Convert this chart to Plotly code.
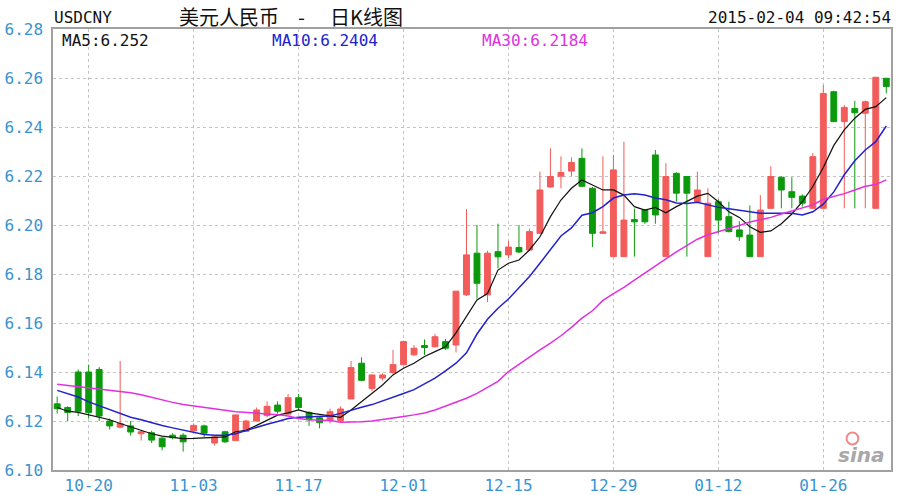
import plotly.graph_objects as go

dates = [
    "10-15", "10-16", "10-17", "10-20", "10-21", "10-22", "10-23", "10-24", "10-27", "10-28",
    "10-29", "10-30", "10-31", "11-03", "11-04", "11-05", "11-06", "11-07", "11-10", "11-11",
    "11-12", "11-13", "11-14", "11-17", "11-18", "11-19", "11-20", "11-21", "11-24", "11-25",
    "11-26", "11-27", "11-28", "12-01", "12-02", "12-03", "12-04", "12-05", "12-08", "12-09",
    "12-10", "12-11", "12-12", "12-15", "12-16", "12-17", "12-18", "12-19", "12-22", "12-23",
    "12-24", "12-25", "12-26", "12-29", "12-30", "12-31", "01-01", "01-02", "01-05", "01-06",
    "01-07", "01-08", "01-09", "01-12", "01-13", "01-14", "01-15", "01-16", "01-19", "01-20",
    "01-21", "01-22", "01-23", "01-26", "01-27", "01-28", "01-29", "01-30", "02-02", "02-03",
]

opens = [
    6.1270, 6.1255, 6.1400, 6.1400, 6.1410, 6.1200, 6.1175, 6.1180, 6.1148, 6.1152,
    6.1130, 6.1142, 6.1142, 6.1160, 6.1180, 6.1110, 6.1156, 6.1120, 6.1158, 6.1200,
    6.1222, 6.1265, 6.1228, 6.1295, 6.1235, 6.1213, 6.1202, 6.1202, 6.1290, 6.1436,
    6.1333, 6.1375, 6.1398, 6.1430, 6.1470, 6.1508, 6.1503, 6.1524, 6.1510, 6.1715,
    6.1885, 6.1715, 6.1891, 6.1878, 6.1908, 6.1898, 6.1966, 6.2155, 6.2199, 6.2220,
    6.2272, 6.2150, 6.1966, 6.1871, 6.1871, 6.2022, 6.2061, 6.2286, 6.1871, 6.2211,
    6.2198, 6.2095, 6.1871, 6.2095, 6.2034, 6.1980, 6.1959, 6.1871, 6.2068, 6.2195,
    6.2136, 6.2118, 6.2068, 6.2068, 6.2544, 6.2422, 6.2476, 6.2456, 6.2068, 6.2599,
]
highs = [
    6.1300, 6.1260, 6.1410, 6.1430, 6.1420, 6.1210, 6.1445, 6.1200, 6.1160, 6.1160,
    6.1135, 6.1150, 6.1150, 6.1190, 6.1185, 6.1140, 6.1160, 6.1226, 6.1205, 6.1255,
    6.1280, 6.1280, 6.1310, 6.1310, 6.1240, 6.1220, 6.1250, 6.1260, 6.1445, 6.1460,
    6.1390, 6.1395, 6.1490, 6.1528, 6.1510, 6.1533, 6.1556, 6.1535, 6.1730, 6.2065,
    6.2000, 6.1895, 6.2005, 6.1935, 6.2000, 6.1985, 6.2218, 6.2313, 6.2280, 6.2276,
    6.2313, 6.2155, 6.2280, 6.2286, 6.2340, 6.2067, 6.2065, 6.2306, 6.2252, 6.2215,
    6.2200, 6.2218, 6.2150, 6.2105, 6.2095, 6.2015, 6.2080, 6.2122, 6.2240, 6.2198,
    6.2195, 6.2125, 6.2293, 6.2571, 6.2548, 6.2490, 6.2507, 6.2508, 6.2605, 6.2600,
]
lows = [
    6.1230, 6.1200, 6.1220, 6.1210, 6.1200, 6.1165, 6.1170, 6.1140, 6.1120, 6.1110,
    6.1080, 6.1125, 6.1075, 6.1155, 6.1135, 6.1100, 6.1110, 6.1120, 6.1155, 6.1198,
    6.1215, 6.1230, 6.1225, 6.1245, 6.1180, 6.1170, 6.1190, 6.1195, 6.1290, 6.1362,
    6.1322, 6.1365, 6.1390, 6.1428, 6.1465, 6.1470, 6.1500, 6.1490, 6.1480, 6.1710,
    6.1700, 6.1685, 6.1823, 6.1865, 6.1885, 6.1895, 6.1964, 6.2152, 6.2150, 6.2200,
    6.2155, 6.1910, 6.1966, 6.1871, 6.1871, 6.1871, 6.2005, 6.2005, 6.1871, 6.2095,
    6.1871, 6.2090, 6.1871, 6.1966, 6.1970, 6.1935, 6.1871, 6.1871, 6.2068, 6.2068,
    6.2068, 6.2075, 6.2068, 6.2068, 6.2420, 6.2068, 6.2068, 6.2068, 6.2068, 6.2537,
]
closes = [
    6.1250, 6.1235, 6.1240, 6.1235, 6.1220, 6.1180, 6.1190, 6.1155, 6.1156, 6.1122,
    6.1095, 6.1132, 6.1115, 6.1182, 6.1150, 6.1135, 6.1115, 6.1225, 6.1200, 6.1245,
    6.1260, 6.1240, 6.1295, 6.1255, 6.1205, 6.1193, 6.1238, 6.1249, 6.1418, 6.1366,
    6.1388, 6.1388, 6.1430, 6.1524, 6.1497, 6.1500, 6.1544, 6.1497, 6.1730, 6.1878,
    6.1762, 6.1885, 6.1870, 6.1910, 6.1890, 6.1973, 6.2143, 6.2198, 6.2214, 6.2255,
    6.2158, 6.1966, 6.1972, 6.2225, 6.2020, 6.2013, 6.2013, 6.2041, 6.2198, 6.2130,
    6.2130, 6.2143, 6.2089, 6.2020, 6.1973, 6.1952, 6.1871, 6.2061, 6.2198, 6.2143,
    6.2113, 6.2089, 6.2279, 6.2537, 6.2422, 6.2480, 6.2458, 6.2503, 6.2603, 6.2565,
]

ma5 = [
    6.1255, 6.1240, 6.1235, 6.1225, 6.1215, 6.1205, 6.1190, 6.1175, 6.1160, 6.1148,
    6.1138, 6.1132, 6.1128, 6.1129, 6.1131, 6.1132, 6.1135, 6.1156, 6.1162, 6.1182,
    6.1203, 6.1224, 6.1233, 6.1245, 6.1233, 6.1227, 6.1224, 6.1215, 6.1245, 6.1280,
    6.1313, 6.1347, 6.1388, 6.1415, 6.1436, 6.1463, 6.1483, 6.1503, 6.1560, 6.1626,
    6.1694, 6.1720, 6.1816, 6.1844, 6.1857, 6.1898, 6.1952, 6.2034, 6.2102, 6.2150,
    6.2184, 6.2163, 6.2143, 6.2143, 6.2122, 6.2075, 6.2061, 6.2072, 6.2050, 6.2075,
    6.2095, 6.2118, 6.2129, 6.2095, 6.2054, 6.2031, 6.1993, 6.1970, 6.1976, 6.2005,
    6.2045, 6.2095, 6.2157, 6.2235, 6.2325, 6.2388, 6.2436, 6.2472, 6.2483, 6.2520,
]
ma10 = [
    6.1325, 6.1310, 6.1298, 6.1278, 6.1262, 6.1245, 6.1228, 6.1215, 6.1205, 6.1192,
    6.1182, 6.1172, 6.1163, 6.1152, 6.1145, 6.1142, 6.1142, 6.1148, 6.1162, 6.1175,
    6.1187, 6.1198, 6.1210, 6.1215, 6.1217, 6.1218, 6.1220, 6.1231, 6.1245, 6.1256,
    6.1267, 6.1281, 6.1295, 6.1312, 6.1328, 6.1350, 6.1375, 6.1405, 6.1436, 6.1478,
    6.1555, 6.1615, 6.1660, 6.1698, 6.1745, 6.1790, 6.1844, 6.1900, 6.1955, 6.1988,
    6.2040, 6.2050, 6.2075, 6.2110, 6.2122, 6.2128, 6.2122, 6.2110, 6.2103, 6.2090,
    6.2088, 6.2093, 6.2083, 6.2072, 6.2066, 6.2060, 6.2054, 6.2048, 6.2048, 6.2048,
    6.2048, 6.2041, 6.2054, 6.2085, 6.2135, 6.2205, 6.2262, 6.2306, 6.2340, 6.2404,
]
ma30 = [
    6.1350, 6.1345, 6.1341, 6.1335, 6.1331, 6.1327, 6.1322, 6.1315, 6.1307, 6.1296,
    6.1285, 6.1276, 6.1267, 6.1262, 6.1256, 6.1250, 6.1244, 6.1238, 6.1235, 6.1234,
    6.1232, 6.1226, 6.1220, 6.1210, 6.1205, 6.1203, 6.1202, 6.1195, 6.1195, 6.1197,
    6.1200, 6.1205, 6.1212, 6.1218, 6.1225, 6.1233, 6.1245, 6.1261, 6.1276, 6.1293,
    6.1313, 6.1337, 6.1362, 6.1402, 6.1432, 6.1462, 6.1490, 6.1518, 6.1548, 6.1582,
    6.1620, 6.1650, 6.1692, 6.1720, 6.1745, 6.1775, 6.1805, 6.1835, 6.1862, 6.1890,
    6.1915, 6.1942, 6.1960, 6.1972, 6.1985, 6.1998, 6.2012, 6.2022, 6.2031, 6.2045,
    6.2058, 6.2070, 6.2082, 6.2105, 6.2115, 6.2128, 6.2143, 6.2158, 6.2165, 6.2184,
]

tick_dates = ["10-20", "11-03", "11-17", "12-01", "12-15", "12-29", "01-12", "01-26"]
y_ticks = [6.10, 6.12, 6.14, 6.16, 6.18, 6.20, 6.22, 6.24, 6.26, 6.28]

symbol = "USDCNY"
title_left = "美元人民币"
title_right = "日K线图"
timestamp = "2015-02-04 09:42:54"

RED = "#F25C5A"
GREEN = "#0C9A0C"
AXIS_BLUE = "#3A93D0"
MONO = "DejaVu Sans Mono"

fig = go.Figure()
fig.add_trace(go.Candlestick(
    x=dates, open=opens, high=highs, low=lows, close=closes,
    increasing=dict(line=dict(color=RED, width=1), fillcolor=RED),
    decreasing=dict(line=dict(color=GREEN, width=1), fillcolor=GREEN),
    whiskerwidth=0, showlegend=False, hoverinfo="skip",
))
ma_series = [("MA5", ma5, "#111111", 1.2), ("MA10", ma10, "#2222CC", 1.5), ("MA30", ma30, "#E030E0", 1.5)]
for name, vals, color, w in ma_series:
    fig.add_trace(go.Scatter(x=dates, y=vals, mode="lines", name=name,
                             line=dict(color=color, width=w), showlegend=False,
                             hoverinfo="skip"))

fig.update_layout(
    width=900, height=495,
    margin=dict(l=53, r=9, t=29, b=25, autoexpand=False),
    paper_bgcolor="white", plot_bgcolor="white",
    boxgap=0.2, showlegend=False,
    xaxis=dict(
        type="category", range=[-0.4, len(dates) - 0.55],
        tickvals=tick_dates, ticktext=tick_dates,
        showgrid=True, gridcolor="#C4C4C4", griddash="dot", gridwidth=1,
        showline=True, mirror=True, linecolor="#A0A0A0", linewidth=1.5,
        ticks="", tickfont=dict(family=MONO, size=16, color=AXIS_BLUE),
        rangeslider=dict(visible=False), fixedrange=True, automargin=False,
    ),
    yaxis=dict(
        range=[y_ticks[0], y_ticks[-1]],
        tickvals=y_ticks, ticktext=[f"{v:.2f}" for v in y_ticks],
        showgrid=True, gridcolor="#C4C4C4", griddash="dot", gridwidth=1,
        showline=True, mirror=True, linecolor="#A0A0A0", linewidth=1.5,
        ticks="", tickfont=dict(family=MONO, size=16, color=AXIS_BLUE),
        ticklabelstandoff=5,
        zeroline=False, fixedrange=True, automargin=False,
    ),
)

CJK = "Noto Sans CJK SC"
ann = [
    dict(text=symbol, x=-0.001, y=1.027, xanchor="left", yanchor="middle",
         font=dict(family=MONO, size=16, color="#111111")),
    dict(text=title_left, x=0.2715, y=1.029, xanchor="right", yanchor="middle",
         font=dict(family=CJK, size=20, color="#111111")),
    dict(text="-", x=0.2967, y=1.029, xanchor="center", yanchor="middle",
         font=dict(family=CJK, size=20, color="#111111")),
    dict(text=title_right, x=0.3280, y=1.029, xanchor="left", yanchor="middle",
         font=dict(family=CJK, size=20, color="#111111")),
    dict(text=timestamp, x=1.002, y=1.027, xanchor="right", yanchor="middle",
         font=dict(family=MONO, size=16, color="#111111")),
]
ma_label_x = [0.0084, 0.259, 0.5095]
for (name, vals, color, w), lx in zip(ma_series, ma_label_x):
    ann.append(dict(text=f"{name}:{vals[-1]:g}", x=lx, y=0.975, xanchor="left", yanchor="middle",
                    font=dict(family=MONO, size=16, color=color)))
ann.append(dict(text="<b><i>sina</i></b>", x=0.995, y=0.035, xanchor="right", yanchor="middle",
                font=dict(family="DejaVu Sans", size=20, color="#A8A8A8")))
for a in ann:
    a.update(xref="paper", yref="paper", showarrow=False)
fig.update_layout(annotations=ann)
fig.add_shape(type="circle", xref="paper", yref="paper", x0=0.947, x1=0.961, y0=0.058, y1=0.085,
              line=dict(color="#F08A8A", width=2))

fig.write_html("out.html", post_script="document.body.style.margin='0';",
               config={"displayModeBar": False})
